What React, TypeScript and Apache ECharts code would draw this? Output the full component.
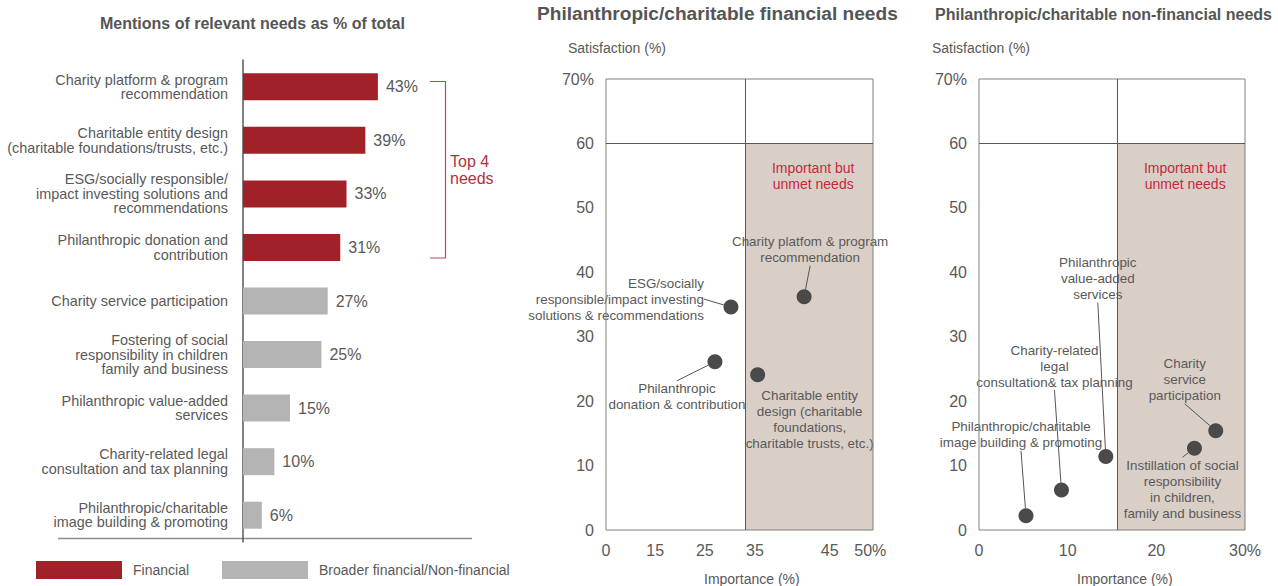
import React, { useEffect, useRef } from "react";
import * as echarts from "echarts";

// ---------- data ----------
const BAR_TITLE = "Mentions of relevant needs as % of total";
const BAR_CATEGORIES = [
  "Charity platform & program\nrecommendation",
  "Charitable entity design\n(charitable foundations/trusts, etc.)",
  "ESG/socially responsible/\nimpact investing solutions and\nrecommendations",
  "Philanthropic donation and\ncontribution",
  "Charity service participation",
  "Fostering of social\nresponsibility in children\nfamily and business",
  "Philanthropic value-added\nservices",
  "Charity-related legal\nconsultation and tax planning",
  "Philanthropic/charitable\nimage building & promoting",
];
const FINANCIAL = [43, 39, 33, 31, null, null, null, null, null];
const NON_FINANCIAL = [null, null, null, null, 27, 25, 15, 10, 6];
const LEGEND_NAMES = ["Financial", "Broader financial/Non-financial"];

const FIN_TITLE = "Philanthropic/charitable financial needs";
const FIN_NEEDS = [
  "Charity platfom & program\nrecommendation",
  "ESG/socially\nresponsible/impact investing\nsolutions & recommendations",
  "Philanthropic\ndonation & contribution",
  "Charitable entity\ndesign (charitable\nfoundations,\ncharitable trusts, etc.)",
];
// importance in axis units (axis spans 0..50 across the box)
const FIN_IMPORTANCE = [37.1, 23.4, 20.4, 28.4];
const FIN_SATISFACTION = [36.2, 34.6, 26.1, 24.1];
const FIN_X_MAX = 50;
const FIN_X_TICK_LABELS = ["0", "15", "25", "35", "45", "50%"];
const FIN_X_TICK_VALUES = [0, 9.2, 18.5, 27.9, 41.9, 49.5];
const FIN_THRESHOLD_X = 26.1;

const NONFIN_TITLE = "Philanthropic/charitable non-financial needs";
const NONFIN_NEEDS = [
  "Philanthropic/charitable\nimage building & promoting",
  "Charity-related\nlegal\nconsultation& tax planning",
  "Philanthropic\nvalue-added\nservices",
  "Instillation of social\nresponsibility\nin children,\nfamily and business",
  "Charity\nservice\nparticipation",
];
const NONFIN_IMPORTANCE = [5.3, 9.3, 14.3, 24.3, 26.7];
const NONFIN_SATISFACTION = [2.2, 6.2, 11.4, 12.7, 15.4];
const NONFIN_X_MAX = 30;
const NONFIN_THRESHOLD_X = 15.6;

const SAT_MAX = 70;
const SAT_THRESHOLD = 60;
const Y_AXIS_NAME = "Satisfaction (%)";
const X_AXIS_NAME = "Importance (%)";
const AREA_LABEL = "Important but\nunmet needs";
const TOP4_LABEL = "Top 4\nneeds";

// ---------- label placement (styling) ----------
const FIN_LABEL_STYLE = [
  { offset: [6, -47], align: "center", line: true },
  { offset: [-27, -8], align: "right", line: true },
  { offset: [-38, 35], align: "center", line: true },
  { offset: [52, 45], align: "center", line: false },
];
const NONFIN_LABEL_STYLE = [
  { offset: [-5, -81], align: "center", line: true },
  { offset: [-7, -124], align: "center", line: true },
  { offset: [-8, -178], align: "center", line: true },
  { offset: [-12, 41], align: "center", line: true },
  { offset: [-31, -51], align: "center", line: true },
];

const GRAY_TEXT = "#595959";
const RED = "#A02128";
const GRAY_BAR = "#B4B4B4";
const BEIGE = "#D9CFC7";
const AREA_RED = "#C8283C";
const DOT = "#4A4A4A";
const FONT = "'Liberation Sans', Arial, sans-serif";

function scatterData(names: string[], xs: number[], ys: number[], styles: any[]) {
  return names.map((n, i) => ({
    name: n,
    value: [xs[i], ys[i]],
    label: {
      offset: styles[i].offset,
      align: styles[i].align,
    },
    labelLine: { show: styles[i].line },
  }));
}

function scatterSeries(
  idx: number,
  names: string[],
  xs: number[],
  ys: number[],
  styles: any[],
  thr: number,
  xMax: number
) {
  return {
    type: "scatter",
    xAxisIndex: idx,
    yAxisIndex: idx,
    symbolSize: 15,
    itemStyle: { color: DOT, opacity: 1 },
    label: {
      show: true,
      position: "inside",
      formatter: "{b}",
      color: GRAY_TEXT,
      fontSize: 13.4,
      lineHeight: 16,
      fontFamily: FONT,
      verticalAlign: "middle",
    },
    labelLine: {
      show: true,
      lineStyle: { color: "#555555", width: 1 },
    },
    emphasis: { disabled: true },
    data: scatterData(names, xs, ys, styles),
    markArea: {
      silent: true,
      itemStyle: { color: BEIGE },
      label: {
        show: true,
        position: "insideTop",
        distance: 16,
        color: AREA_RED,
        fontSize: 14,
        lineHeight: 16.5,
        fontFamily: FONT,
        offset: [4, 0],
      },
      data: [[{ xAxis: thr, yAxis: 0, name: AREA_LABEL }, { xAxis: xMax, yAxis: SAT_THRESHOLD }]],
    },
    markLine: {
      silent: true,
      symbol: "none",
      label: { show: false },
      lineStyle: { color: "#595959", width: 1, type: "solid" },
      data: [{ yAxis: SAT_THRESHOLD }, { xAxis: thr }],
    },
  };
}

const yAxisCommon = (idx: number) => ({
  type: "value",
  gridIndex: idx,
  min: 0,
  max: SAT_MAX,
  interval: 10,
  axisLine: { show: false },
  axisTick: { show: false },
  splitLine: { show: false },
  axisLabel: {
    color: GRAY_TEXT,
    fontSize: 16,
    fontFamily: FONT,
    margin: 12,
    formatter: (v: number) => (v === SAT_MAX ? SAT_MAX + "%" : String(v)),
  },
});

export default function App() {
  const ref = useRef<HTMLDivElement>(null);

  useEffect(() => {
    if (!ref.current) return;
    const chart = echarts.init(ref.current, null, { renderer: "svg" });

    const option: any = {
      animation: false,
      textStyle: { fontFamily: FONT },
      title: [
        { text: BAR_TITLE, left: 100, top: 15, padding: 0, textStyle: { fontSize: 16, fontWeight: "bold", color: "#555555", fontFamily: FONT } },
        { text: FIN_TITLE, left: 537, top: 4, padding: 0, textStyle: { fontSize: 19.1, fontWeight: "bold", color: "#555555", fontFamily: FONT } },
        { text: NONFIN_TITLE, left: 935, top: 6, padding: 0, textStyle: { fontSize: 16, fontWeight: "bold", color: "#555555", fontFamily: FONT } },
        { text: Y_AXIS_NAME, left: 568, top: 41, padding: 0, textStyle: { fontSize: 14, fontWeight: "normal", color: GRAY_TEXT, fontFamily: FONT } },
        { text: Y_AXIS_NAME, left: 932, top: 41, padding: 0, textStyle: { fontSize: 14, fontWeight: "normal", color: GRAY_TEXT, fontFamily: FONT } },
        { text: X_AXIS_NAME, left: 704, top: 572, padding: 0, textStyle: { fontSize: 14, fontWeight: "normal", color: GRAY_TEXT, fontFamily: FONT } },
        { text: X_AXIS_NAME, left: 1077, top: 572, padding: 0, textStyle: { fontSize: 14, fontWeight: "normal", color: GRAY_TEXT, fontFamily: FONT } },
        { text: TOP4_LABEL, left: 450, top: 153, padding: 0, textStyle: { fontSize: 16, lineHeight: 17, fontWeight: "normal", color: "#B0323A", fontFamily: FONT } },
      ],
      legend: {
        left: 36,
        top: 561,
        padding: 0,
        itemWidth: 86,
        itemHeight: 18,
        itemGap: 33,
        icon: "rect",
        selectedMode: false,
        data: LEGEND_NAMES,
        textStyle: { color: GRAY_TEXT, fontSize: 14, fontFamily: FONT, padding: [0, 0, 0, 6] },
      },
      grid: [
        { left: 243, top: 60, width: 229, height: 482, containLabel: false },
        { left: 606, top: 79, width: 267, height: 451, show: true, borderColor: "#7F7F7F", borderWidth: 1, z: 3 },
        { left: 979, top: 79, width: 266, height: 451, show: true, borderColor: "#7F7F7F", borderWidth: 1, z: 3 },
      ],
      xAxis: [
        {
          type: "value",
          gridIndex: 0,
          min: 0,
          max: 73,
          show: false,
        },
        {
          type: "value",
          gridIndex: 1,
          min: 0,
          max: FIN_X_MAX,
          axisLine: { show: false },
          axisTick: { show: false },
          splitLine: { show: false },
          axisLabel: {
            color: GRAY_TEXT,
            fontSize: 16,
            fontFamily: FONT,
            margin: 12,
            customValues: FIN_X_TICK_VALUES,
            formatter: (v: number) => {
              const i = FIN_X_TICK_VALUES.indexOf(v);
              return i >= 0 ? FIN_X_TICK_LABELS[i] : "";
            },
          },
        },
        {
          type: "value",
          gridIndex: 2,
          min: 0,
          max: NONFIN_X_MAX,
          interval: 10,
          axisLine: { show: false },
          axisTick: { show: false },
          splitLine: { show: false },
          axisLabel: {
            color: GRAY_TEXT,
            fontSize: 16,
            fontFamily: FONT,
            margin: 12,
            formatter: (v: number) => (v === NONFIN_X_MAX ? NONFIN_X_MAX + "%" : String(v)),
          },
        },
      ],
      yAxis: [
        {
          type: "category",
          gridIndex: 0,
          data: BAR_CATEGORIES,
          inverse: true,
          axisLine: { show: true, lineStyle: { color: "#595959", width: 1.5 } },
          axisTick: { show: false },
          axisLabel: {
            color: GRAY_TEXT,
            fontSize: 14.4,
            lineHeight: 14.4,
            fontFamily: FONT,
            margin: 15,
            align: "right",
          },
        },
        yAxisCommon(1),
        yAxisCommon(2),
      ],
      series: [
        {
          name: LEGEND_NAMES[0],
          type: "bar",
          xAxisIndex: 0,
          yAxisIndex: 0,
          stack: "total",
          barWidth: 27,
          itemStyle: { color: RED },
          label: {
            show: true,
            position: "right",
            distance: 8,
            color: GRAY_TEXT,
            fontSize: 16,
            fontFamily: FONT,
            formatter: "{c}%",
          },
          emphasis: { disabled: true },
          data: FINANCIAL.map((v) => (v == null ? "-" : v)),
        },
        {
          name: LEGEND_NAMES[1],
          type: "bar",
          xAxisIndex: 0,
          yAxisIndex: 0,
          stack: "total",
          barWidth: 27,
          itemStyle: { color: GRAY_BAR },
          label: {
            show: true,
            position: "right",
            distance: 8,
            color: GRAY_TEXT,
            fontSize: 16,
            fontFamily: FONT,
            formatter: "{c}%",
          },
          emphasis: { disabled: true },
          data: NON_FINANCIAL.map((v) => (v == null ? "-" : v)),
        },
        scatterSeries(1, FIN_NEEDS, FIN_IMPORTANCE, FIN_SATISFACTION, FIN_LABEL_STYLE, FIN_THRESHOLD_X, FIN_X_MAX),
        scatterSeries(2, NONFIN_NEEDS, NONFIN_IMPORTANCE, NONFIN_SATISFACTION, NONFIN_LABEL_STYLE, NONFIN_THRESHOLD_X, NONFIN_X_MAX),
      ],
      graphic: [
        {
          type: "line",
          silent: true,
          shape: { x1: 58, y1: 538.5, x2: 472, y2: 538.5 },
          style: { stroke: "#8C8C8C", lineWidth: 1.5 },
        },
        {
          type: "polyline",
          silent: true,
          shape: { points: [[430, 81.5], [445.5, 81.5], [445.5, 258], [430, 258]] },
          style: { stroke: "#B94A50", lineWidth: 1.2, fill: null },
        },
      ],
    };

    chart.setOption(option);
    return () => chart.dispose();
  }, []);

  return (
    <div
      ref={ref}
      style={{ position: "absolute", left: 0, top: 0, width: 1278, height: 586, background: "#fff" }}
    />
  );
}
